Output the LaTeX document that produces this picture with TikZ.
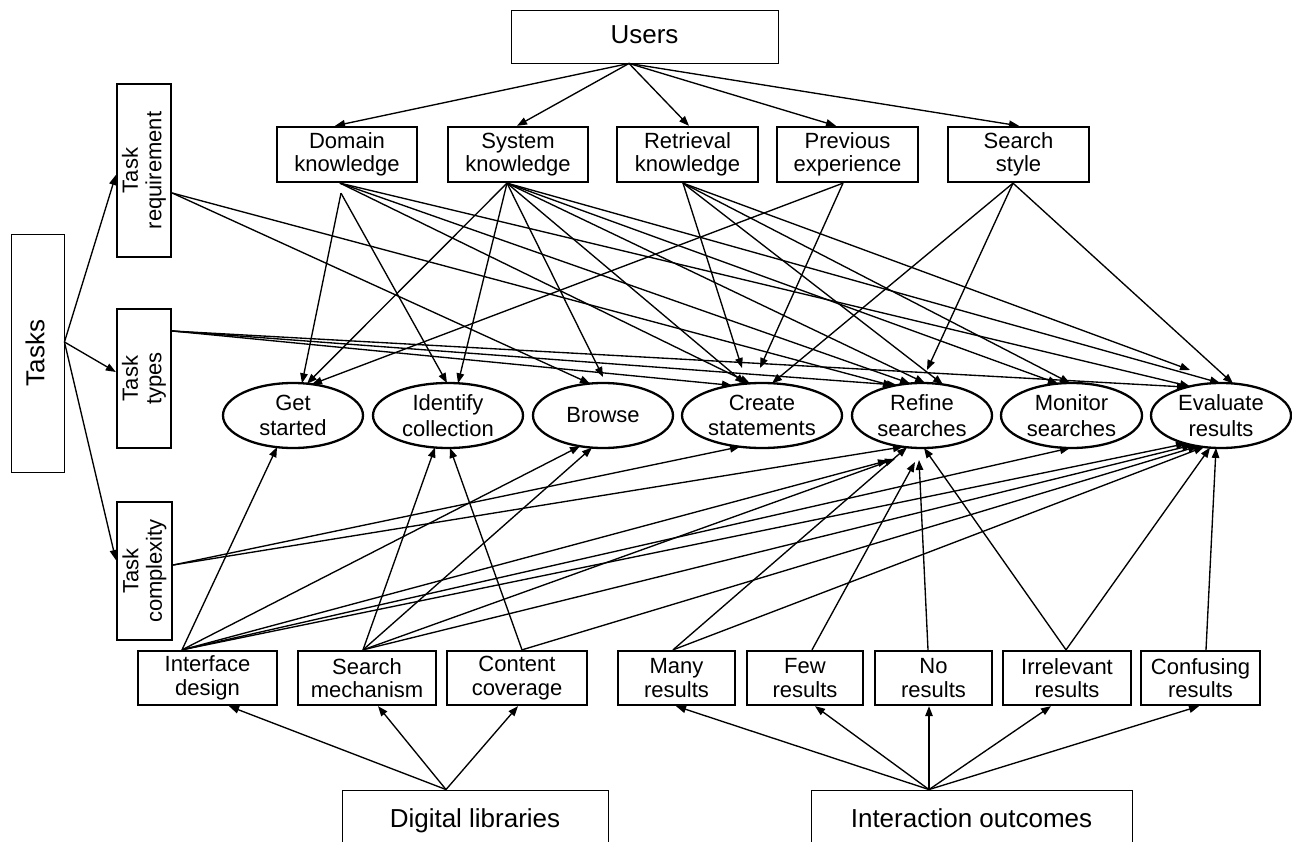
\documentclass[tikz,border=0pt]{standalone}
\usepackage{fontspec}
\setmainfont{Liberation Sans}
\usetikzlibrary{arrows.meta,calc,shapes.geometric}
\begin{document}
\begin{tikzpicture}[x=1pt,y=-1pt,
  big/.style={draw, line width=0.9pt, inner sep=0, font=\fontsize{26}{28}\selectfont, align=center, text height=19.5pt, text depth=6pt},
  fbox/.style={draw, line width=2.3pt, inner sep=0, font=\fontsize{22}{23.5}\selectfont, align=center},
  ell/.style={draw, ellipse, line width=2.3pt, inner sep=0, minimum height=65, font=\fontsize{22}{25.5}\selectfont, align=center},
  arr/.style={line width=1.35pt, -{Triangle[length=10pt,width=7.5pt]}}]
\useasboundingbox (0,0) rectangle (1292,842);

% ---- factor nodes
\node[big, minimum width=267, minimum height=53] (users) at (644.5,36.5) {Users};
\node[fbox, minimum width=140, minimum height=55] (dk) at (347,154.5) {Domain\\knowledge};
\node[fbox, minimum width=140, minimum height=55] (sk) at (518,154.5) {System\\knowledge};
\node[fbox, minimum width=141, minimum height=55] (rk) at (687.5,154.5) {Retrieval\\knowledge};
\node[fbox, minimum width=141, minimum height=55] (pe) at (847.5,154.5) {Previous\\experience};
\node[fbox, minimum width=141, minimum height=55] (ss) at (1018.5,154.5) {Search\\style};

\node[big, rotate=90, minimum width=238, minimum height=53] (tasks) at (37.5,353) {Tasks};
\node[fbox, rotate=90, minimum width=173, minimum height=54] (treq) at (144,170.5) {Task\\requirement};
\node[fbox, rotate=90, minimum width=139, minimum height=54] (ttyp) at (144,378.5) {Task\\types};
\node[fbox, rotate=90, minimum width=138, minimum height=55] (tcom) at (144.5,571) {Task\\complexity};

% ---- help-seeking situations
\node[ell, minimum width=140] (gs) at (293,415.5) {Get\\started};
\node[ell, minimum width=150] (ic) at (448,415.5) {Identify\\collection};
\node[ell, minimum width=140] (br) at (603,415.5) {Browse};
\node[ell, minimum width=160] (cs) at (762,415.5) {Create\\statements};
\node[ell, minimum width=140] (rs) at (922,415.5) {Refine\\searches};
\node[ell, minimum width=141] (ms) at (1071.5,415.5) {Monitor\\searches};
\node[ell, minimum width=140] (er) at (1221,415.5) {Evaluate\\results};

% ---- bottom factors
\node[fbox, minimum width=139, minimum height=54] (id) at (207.5,678) {Interface\\design};
\node[fbox, minimum width=138, minimum height=54] (sm) at (367,678) {Search\\mechanism};
\node[fbox, minimum width=140, minimum height=54] (cc) at (517,678) {Content\\coverage};
\node[fbox, minimum width=117, minimum height=54] (mr) at (676.5,678) {Many\\results};
\node[fbox, minimum width=116, minimum height=54] (fr) at (805,678) {Few\\results};
\node[fbox, minimum width=117, minimum height=54] (nr) at (933.5,678) {No\\results};
\node[fbox, minimum width=128, minimum height=54] (ir) at (1067,678) {Irrelevant\\results};
\node[fbox, minimum width=119, minimum height=54] (cr) at (1200.5,678) {Confusing\\results};

\node[big, minimum width=266, minimum height=62] (dl) at (475,821) {Digital libraries};
\node[big, minimum width=321, minimum height=62] (io) at (971.5,821) {Interaction outcomes};

% ---- ports
\coordinate (uO) at ($(users.south)+(-15.5,0)$);
\coordinate (tO) at ($(tasks.south)+(0,-11)$);
\coordinate (dO) at ($(dk.south)+(-7,0)$);
\coordinate (dO2) at ($(dk.south)+(-6,10)$);
\coordinate (sO) at ($(sk.south)+(-11,0)$);
\coordinate (rO) at ($(rk.south)+(-4.5,0)$);
\coordinate (pO) at ($(pe.south)+(-4.5,0)$);
\coordinate (ssO) at ($(ss.south)+(-5.5,0)$);
\coordinate (trO) at ($(treq.south)+(0,22.5)$);
\coordinate (ttO) at ($(ttyp.south)+(0,-47.5)$);
\coordinate (tcO) at ($(tcom.south)+(0,-6)$);
\coordinate (idO) at ($(id.north)+(-25.5,0)$);
\coordinate (smO) at ($(sm.north)+(-4,0)$);
\coordinate (ccO) at ($(cc.north)+(5,0)$);
\coordinate (mrO) at ($(mr.north)+(-3.5,0)$);
\coordinate (frO) at ($(fr.north)+(7,0)$);
\coordinate (nrO) at ($(nr.north)+(-5.5,0)$);
\coordinate (irO) at ($(ir.north)+(-1,0)$);
\coordinate (crO) at ($(cr.north)+(5.5,0)$);
\coordinate (dlO) at ($(dl.north)+(-29,0)$);
\coordinate (ioO) at ($(io.north)+(-42.5,0)$);

% ---- Users
\draw[arr] (uO) -- ($(dk.north)+(-12,0)$);
\draw[arr] (uO) -- ($(sk.north)+(-1,0)$);
\draw[arr] (uO) -- ($(rk.north)+(1.5,0)$);
\draw[arr] (uO) -- ($(pe.north)+(-11.5,0)$);
\draw[arr] (uO) -- ($(ss.north)+(0.5,0)$);

% ---- Tasks
\draw[arr] (tO) -- ($(treq.north)+(0,4.5)$);
\draw[arr] (tO) -- ($(ttyp.north)+(0,-6.5)$);
\draw[arr] (tO) -- ($(tcom.north)+(0,-11)$);

% ---- into Get started (top)
\draw[arr] (dO2) -- ($(gs.center)+(9,-32.2)$);
\draw[arr] (sO) -- ($(gs.center)+(14,-31.8)$);
\draw[arr] (pO) -- ($(gs.center)+(19,-31.3)$);
% Identify collection
\draw[arr] (dO2) -- ($(ic.center)+(-1,-32.5)$);
\draw[arr] (sO) -- ($(ic.center)+(10,-32.2)$);
% Browse
\draw[arr] (trO) -- ($(br.center)+(-13,-31.9)$);
\draw[arr] (sO) -- ($(br.center)+(0,-38.5)$);
% Create statements
\draw[arr] (ttO) -- ($(cs.center)+(-30,-30.1)$);
\draw[arr] (dO) -- ($(cs.center)+(-12,-32.1)$);
\draw[arr] (sO) -- ($(cs.center)+(-17,-31.8)$);
\draw[arr] (rO) -- ($(cs.center)+(-20,-47.5)$);
\draw[arr] (pO) -- ($(cs.center)+(-2,-47.5)$);
\draw[arr] (ssO) -- ($(cs.center)+(10,-32.2)$);
% Refine searches
\draw[arr] (trO) -- ($(rs.center)+(-29,-29.6)$);
\draw[arr] (ttO) -- ($(rs.center)+(-25,-30.4)$);
\draw[arr] (dO) -- ($(rs.center)+(-12,-32)$);
\draw[arr] (sO) -- ($(rs.center)+(3,-32.5)$);
\draw[arr] (ssO) -- ($(rs.center)+(5,-45.5)$);
\draw[arr] (rO) -- ($(rs.center)+(21,-31)$);
% Monitor searches
\draw[arr] (sO) -- ($(ms.center)+(-13.5,-31.9)$);
\draw[arr] (rO) -- ($(ms.center)+(-1.5,-32.5)$);
% Evaluate results
\draw[arr] (rO) -- ($(er.center)+(-31,-45.5)$);
\draw[arr] (dO) -- ($(er.center)+(-31,-29.1)$);
\draw[arr] (ttO) -- ($(er.center)+(-34,-28.4)$);
\draw[arr] (sO) -- ($(er.center)+(-1,-32.5)$);
\draw[arr] (ssO) -- ($(er.center)+(12,-32)$);

% ---- from below
\draw[arr] (idO) -- ($(gs.center)+(-16,31.6)$);
\draw[arr] (smO) -- ($(ic.center)+(-13,32)$);
\draw[arr] (ccO) -- ($(ic.center)+(2,32.5)$);
\draw[arr] (idO) -- ($(br.center)+(-23,30.7)$);
\draw[arr] (smO) -- ($(br.center)+(-11,32.1)$);
\draw[arr] (tcO) -- ($(cs.center)+(-22,31.2)$);
\draw[arr] (tcO) -- ($(rs.center)+(-19,31.3)$);
\draw[arr] (idO) -- ($(rs.center)+(-34,45)$);
\draw[arr] (smO) -- ($(rs.center)+(-27,43.5)$);
\draw[arr] (mrO) -- ($(rs.center)+(-15,31.7)$);
\draw[arr] (frO) -- ($(rs.center)+(-7,46.5)$);
\draw[arr] (nrO) -- ($(rs.center)+(-3,44.5)$);
\draw[arr] (irO) -- ($(rs.center)+(2,32.5)$);
\draw[arr] (idO) -- ($(ms.center)+(-1.5,32.5)$);
\draw[arr] (idO) -- ($(er.center)+(-35,28.1)$);
\draw[arr] (smO) -- ($(er.center)+(-29,29.6)$);
\draw[arr] (ccO) -- ($(er.center)+(-23,30.7)$);
\draw[arr] (mrO) -- ($(er.center)+(-17,31.5)$);
\draw[arr] (irO) -- ($(er.center)+(-11,32.1)$);
\draw[arr] (crO) -- ($(er.center)+(-5,32.4)$);

% ---- Digital libraries / Interaction outcomes
\draw[arr] (dlO) -- ($(id.south)+(21.5,0)$);
\draw[arr] (dlO) -- ($(sm.south)+(11,0)$);
\draw[arr] (dlO) -- ($(cc.south)+(1,0)$);
\draw[arr] (ioO) -- ($(mr.south)+(-0.5,0)$);
\draw[arr] (ioO) -- ($(fr.south)+(10,0)$);
\draw[arr] (ioO) -- ($(nr.south)+(-4.5,0)$);
\draw[arr] (ioO) -- ($(ir.south)+(-16,0)$);
\draw[arr] (ioO) -- ($(cr.south)+(-1.5,0)$);
\end{tikzpicture}
\end{document}
